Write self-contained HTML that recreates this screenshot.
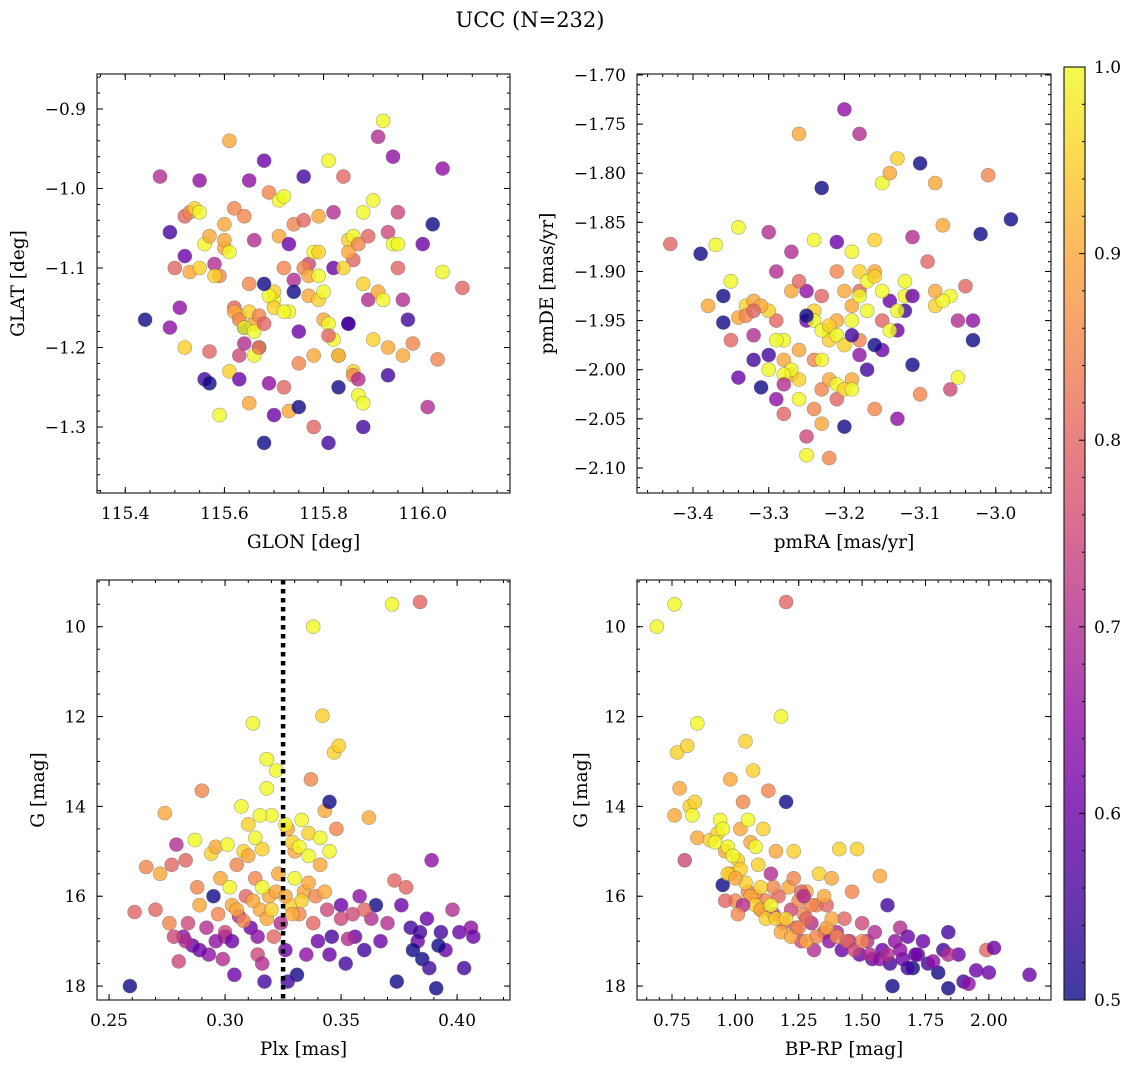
<!DOCTYPE html>
<html><head><meta charset="utf-8"><style>
html,body{margin:0;padding:0;background:#fff;}
svg{display:block;font-family:"DejaVu Serif","Liberation Serif",serif;}
</style></head><body>
<svg id="chart" width="1136" height="1067" viewBox="0 0 1136 1067">
<text x="530" y="27" text-anchor="middle" font-size="21">UCC (N=232)</text>
</svg>
<script>
// ---- Panel 1: GLON vs GLAT ----
const glonA = [115.44,115.47,115.49,115.49,115.50,115.51,115.52,115.52,115.53,115.54,115.55,115.52,115.53,115.55,115.55,115.56,115.57,115.57,115.58,115.59,115.59,115.60,115.60,115.61,115.61,115.62,115.62,115.63,115.63,115.64,115.64,115.65,115.65,115.65,115.66,115.66,115.67,115.68,115.68,115.69,115.69,115.70,115.70,115.70,115.71,115.71,115.72,115.72,115.73,115.73,115.73,115.74,115.74,115.75,115.75,115.76,115.76,115.77,115.77,115.78,115.78,115.79,115.79,115.80,115.81,115.81,115.82,115.82,115.83,115.83,115.84,115.85,115.85,115.86,115.86,115.87,115.88,115.88,115.89,115.89,115.90,115.90,115.91,115.91,115.92,115.93,115.93,115.94,115.94,115.95,115.95,115.96,115.96,116.01,116.02,116.03,116.04,116.04,116.08,116.00,115.97,115.98,115.93,
115.62,115.63,115.64,115.65,115.66,115.67,115.68,115.69,115.70,115.72,115.76,115.77,115.79,115.79,115.80,115.81,115.82,115.83,115.84,115.85,115.86,115.87,115.88,115.92,115.95,115.56,115.57,115.58,115.60,115.61,115.64,115.68,115.72,115.74,115.85,115.86,115.87,115.88,115.75,115.78,115.81,115.63,115.66,115.67];
const glatA = [-1.165,-0.985,-1.055,-1.175,-1.10,-1.15,-1.085,-1.035,-1.03,-1.025,-1.03,-1.2,-1.105,-0.99,-1.10,-1.24,-1.245,-1.205,-1.095,-1.11,-1.285,-1.075,-1.045,-0.94,-1.23,-1.15,-1.025,-1.16,-1.24,-1.175,-1.195,-1.12,-1.27,-0.99,-1.065,-1.17,-1.20,-1.32,-0.965,-1.245,-1.005,-1.14,-1.13,-1.285,-1.06,-1.015,-1.10,-1.25,-1.28,-1.07,-1.155,-1.045,-1.115,-1.18,-1.275,-1.04,-0.985,-1.095,-1.135,-1.30,-1.08,-1.14,-1.035,-1.165,-1.32,-0.965,-1.10,-1.03,-1.25,-1.21,-0.985,-1.065,-1.17,-1.09,-1.23,-1.26,-1.30,-1.03,-1.14,-1.06,-1.015,-1.19,-0.935,-1.13,-0.915,-1.055,-1.235,-0.96,-1.07,-1.03,-1.10,-1.21,-1.14,-1.275,-1.045,-1.215,-0.975,-1.105,-1.125,-1.07,-1.165,-1.195,-1.20,
-1.155,-1.165,-1.175,-1.155,-1.18,-1.16,-1.17,-1.135,-1.15,-1.155,-1.10,-1.11,-1.08,-1.11,-1.13,-1.17,-1.19,-1.21,-1.10,-1.08,-1.06,-1.07,-1.12,-1.14,-1.07,-1.07,-1.06,-1.11,-1.065,-1.08,-1.035,-1.12,-1.01,-1.13,-1.17,-1.235,-1.24,-1.27,-1.22,-1.21,-1.185,-1.21,-1.21,-1.20];
const probA = [0.5,0.7,0.55,0.65,0.8,0.65,0.6,0.8,0.85,0.95,1.0,0.95,0.9,0.65,0.95,0.55,0.5,0.8,0.7,0.85,1.0,0.9,0.9,0.9,0.95,0.8,0.85,0.95,0.6,0.5,0.7,0.85,0.9,0.65,0.7,0.9,0.55,0.5,0.6,0.65,0.85,1.0,0.95,0.6,0.9,1.0,0.85,0.8,0.9,0.6,1.0,0.85,0.7,0.6,0.5,0.8,0.55,0.75,0.9,0.8,1.0,0.95,0.9,0.9,0.55,1.0,0.6,0.7,0.5,0.7,0.8,0.95,0.6,0.8,0.95,1.0,0.55,1.0,0.7,0.8,1.0,0.95,0.7,0.9,1.0,0.75,0.55,0.65,1.0,0.75,0.8,0.9,0.7,0.7,0.5,0.85,0.65,1.0,0.8,0.6,0.55,0.85,0.9,
0.9,0.85,1.0,0.95,1.0,0.85,0.8,1.0,0.95,1.0,0.85,0.9,0.95,1.0,1.0,1.0,1.0,0.95,0.95,0.9,1.0,0.85,0.95,1.0,1.0,1.0,0.9,0.95,0.9,1.0,0.85,0.5,1.0,0.5,0.55,0.85,0.7,1.0,0.85,0.9,0.8,0.75,1.0,0.85];

// ---- Panel 2: pmRA vs pmDE ----
const pmraB = [-3.43,-3.39,-3.37,-3.38,-3.36,-3.36,-3.35,-3.34,-3.34,-3.34,-3.33,-3.32,-3.32,-3.31,-3.30,-3.30,-3.29,-3.29,-3.28,-3.28,-3.27,-3.27,-3.26,-3.26,-3.25,-3.25,-3.25,-3.24,-3.24,-3.23,-3.23,-3.23,-3.22,-3.22,-3.21,-3.21,-3.20,-3.20,-3.19,-3.19,-3.18,-3.18,-3.17,-3.16,-3.16,-3.15,-3.15,-3.14,-3.14,-3.13,-3.13,-3.12,-3.11,-3.11,-3.10,-3.10,-3.09,-3.08,-3.08,-3.07,-3.06,-3.06,-3.05,-3.05,-3.04,-3.03,-3.03,-3.02,-3.01,-2.98,-3.30,-3.26,-3.22,-3.20,-3.18,-3.17,-3.24,-3.19,-3.27,-3.15,-3.23,-3.21,-3.28,-3.16,-3.32,-3.13,-3.21,-3.25,-3.18,-3.29,-3.12,
-3.24,-3.23,-3.22,-3.21,-3.20,-3.19,-3.18,-3.17,-3.16,-3.15,-3.14,-3.13,-3.23,-3.22,-3.21,-3.20,-3.27,-3.28,-3.29,-3.30,-3.31,-3.33,-3.32,-3.26,-3.25,-3.19,-3.16,-3.18,-3.12,-3.11,-3.07,-3.08,-3.35,-3.26,-3.24,-3.19,-3.28];
const pmdeB = [-1.872,-1.882,-1.873,-1.935,-1.925,-1.952,-1.97,-1.947,-1.855,-2.008,-1.935,-1.93,-1.965,-2.018,-1.985,-1.86,-1.95,-2.03,-2.045,-1.97,-1.88,-2.005,-1.76,-2.01,-2.068,-1.95,-2.087,-1.868,-1.99,-1.815,-2.055,-1.925,-2.09,-1.96,-1.87,-2.03,-1.735,-2.058,-1.88,-1.935,-1.76,-1.9,-2.0,-1.868,-2.04,-1.81,-1.95,-1.8,-1.93,-1.785,-2.05,-1.91,-1.995,-1.865,-1.79,-2.025,-1.89,-1.81,-1.935,-1.853,-2.02,-1.925,-1.95,-2.008,-1.915,-1.95,-1.97,-1.862,-1.802,-1.847,-1.94,-1.98,-1.97,-1.92,-1.97,-1.94,-1.94,-2.01,-1.92,-1.98,-2.02,-1.9,-1.99,-1.9,-1.99,-1.96,-1.95,-1.92,-1.92,-1.9,-1.94,
-1.95,-1.96,-1.955,-1.965,-1.975,-1.95,-1.925,-1.91,-1.905,-1.92,-1.96,-1.94,-1.99,-2.01,-2.015,-2.02,-2.0,-2.005,-1.97,-2.0,-1.935,-1.945,-1.94,-1.91,-1.945,-1.965,-1.975,-1.985,-1.925,-1.925,-1.93,-1.92,-1.91,-2.03,-2.04,-2.02,-2.015];
const probB = [0.8,0.5,1.0,0.9,0.5,0.5,0.8,0.9,1.0,0.6,0.95,0.9,0.7,0.5,0.55,0.7,0.8,0.65,0.8,1.0,0.7,0.9,0.9,0.95,0.75,0.6,1.0,1.0,0.85,0.5,0.9,0.8,0.85,1.0,0.6,0.8,0.65,0.5,1.0,0.9,0.7,0.95,0.55,0.95,0.85,1.0,0.8,0.9,0.6,0.95,0.65,1.0,0.5,0.7,0.5,0.85,0.8,0.9,0.95,0.9,0.75,1.0,0.7,1.0,0.8,0.65,0.5,0.5,0.85,0.5,0.95,0.9,0.95,0.9,0.85,1.0,0.95,0.9,0.9,0.6,0.85,0.85,0.9,0.9,0.55,0.6,0.9,0.65,0.8,0.7,0.55,
1.0,1.0,0.95,1.0,0.95,1.0,1.0,1.0,0.95,1.0,1.0,1.0,1.0,0.9,1.0,0.95,1.0,1.0,1.0,1.0,0.9,0.85,0.8,0.8,0.5,0.55,0.5,0.65,1.0,0.6,1.0,0.9,1.0,1.0,0.85,1.0,0.7];

// ---- Panel 3: Plx vs G ----
const plxC = [0.259,0.261,0.266,0.270,0.272,0.274,0.276,0.277,0.279,0.280,0.282,0.283,0.284,0.286,0.287,0.288,0.289,0.290,0.292,0.293,0.294,0.295,0.296,0.297,0.298,0.299,0.300,0.301,0.302,0.303,0.304,0.305,0.306,0.307,0.308,0.309,0.310,0.311,0.312,0.313,0.314,0.315,0.316,0.317,0.318,0.319,0.320,0.321,0.322,0.323,0.324,0.326,0.327,0.328,0.330,0.331,0.332,0.333,0.334,0.335,0.336,0.337,0.338,0.339,0.340,0.341,0.342,0.343,0.344,0.345,0.346,0.347,0.348,0.349,0.350,0.352,0.355,0.356,0.358,0.360,0.362,0.363,0.365,0.367,0.370,0.372,0.373,0.374,0.376,0.378,0.380,0.383,0.384,0.385,0.387,0.389,0.391,0.393,0.395,0.398,0.401,0.403,0.406,0.407,0.345,0.329,0.318,
0.305,0.308,0.312,0.316,0.318,0.320,0.322,0.326,0.329,0.333,0.336,0.338,0.332,0.336,0.341,0.313,0.315,0.326,0.330,0.310,0.300,0.296,0.289,0.283,0.278,0.303,0.345,0.350,0.353,0.360,0.381,0.384,0.388,0.392,0.316,0.327,0.314,0.343];
const gmagC = [18.0,16.35,15.35,16.3,15.5,14.15,16.6,15.3,14.85,17.45,16.9,15.2,16.6,17.1,14.75,15.8,16.2,13.65,16.7,17.3,15.05,16.0,14.9,16.4,15.6,17.4,16.8,14.85,15.8,16.2,17.75,15.3,16.45,14.0,15.0,16.0,14.4,16.7,12.15,15.6,17.3,16.3,14.95,17.9,12.95,16.0,14.2,16.9,13.2,15.5,16.6,17.2,14.5,16.2,15.0,17.75,16.4,14.3,15.9,17.3,14.6,13.4,10.0,16.0,17.0,15.3,11.98,14.1,16.3,15.0,16.9,12.8,14.5,12.65,16.2,17.5,16.4,16.9,16.0,17.2,14.25,16.5,16.2,17.0,16.6,9.5,15.65,17.9,16.2,15.8,16.7,17.0,9.45,17.4,16.5,15.2,18.05,16.8,17.2,16.3,16.8,17.6,16.7,16.9,13.9,14.8,13.6,
16.3,16.55,16.1,15.8,16.5,16.3,15.9,16.0,16.4,16.1,15.7,16.6,14.9,15.1,14.7,14.7,14.2,14.4,15.6,15.1,16.9,17.0,17.2,17.0,16.9,17.0,17.3,16.5,16.95,16.3,17.2,16.8,17.6,17.1,17.5,17.9,16.9,15.9];
const probC = [0.5,0.8,0.85,0.8,0.9,0.9,0.85,0.8,0.7,0.75,0.65,0.8,0.75,0.6,1.0,0.85,0.9,0.85,0.7,0.65,0.95,0.5,0.9,0.85,0.9,0.7,0.75,1.0,1.0,0.9,0.6,0.85,0.7,1.0,0.95,0.8,0.95,0.6,1.0,0.85,0.75,0.9,0.95,0.55,1.0,0.9,1.0,0.8,1.0,0.9,0.7,0.6,0.9,0.95,0.9,0.5,0.85,1.0,0.9,0.65,0.95,0.85,1.0,0.85,0.6,0.9,0.95,0.9,0.75,1.0,0.55,0.95,0.85,0.95,0.6,0.55,0.75,0.6,0.65,0.55,0.9,0.7,0.5,0.6,0.7,1.0,0.8,0.5,0.6,0.8,0.55,0.6,0.8,0.5,0.6,0.65,0.5,0.55,0.6,0.7,0.6,0.55,0.65,0.6,0.5,0.95,1.0,
0.9,0.85,0.9,1.0,0.9,0.95,0.9,0.9,0.9,0.95,0.9,0.8,1.0,1.0,1.0,1.0,1.0,1.0,1.0,0.9,0.7,0.65,0.6,0.7,0.75,0.6,0.6,0.75,0.7,0.8,0.5,0.55,0.55,0.5,0.7,0.55,0.65,0.9];

// ---- Panel 4: BP-RP vs G ----
const bprpD = [0.69,0.76,0.77,0.78,0.80,0.76,0.81,0.82,0.84,0.85,0.85,0.83,0.90,0.93,0.94,0.95,0.96,0.98,0.98,1.00,1.01,1.02,1.03,1.04,1.05,1.06,1.07,1.08,1.09,1.10,1.11,1.12,1.13,1.14,1.15,1.16,1.17,1.18,1.19,1.20,1.20,1.21,1.22,1.23,1.24,1.25,1.26,1.27,1.28,1.30,1.31,1.32,1.33,1.35,1.36,1.37,1.38,1.40,1.41,1.42,1.43,1.45,1.46,1.48,1.49,1.50,1.52,1.54,1.55,1.57,1.58,1.60,1.61,1.62,1.63,1.65,1.66,1.68,1.70,1.72,1.74,1.76,1.80,1.82,1.84,1.84,1.88,1.90,1.92,1.95,1.99,2.00,2.02,2.16,1.28,1.15,1.35,
0.92,0.95,0.97,0.99,1.02,1.04,1.06,1.08,1.10,1.12,1.14,1.16,1.18,1.20,1.22,1.25,1.28,1.32,1.36,1.40,1.44,1.47,1.50,1.53,1.57,1.60,1.65,1.68,1.71,1.78,1.84,0.97,1.00,1.03,1.05,1.08,1.10,1.23,1.26,1.30,1.38,0.96,1.01,1.27];
const gmagD = [10.0,9.5,12.8,13.6,15.2,14.2,12.65,14.0,13.9,14.7,12.15,14.2,14.75,14.6,14.3,15.75,15.0,13.4,15.5,16.1,15.2,14.5,13.9,12.55,15.9,14.8,13.2,16.0,15.3,16.3,14.5,16.1,13.65,15.5,16.4,15.0,16.0,12.0,16.6,9.45,13.9,15.8,16.3,15.0,16.7,16.1,17.0,16.4,15.9,16.6,17.2,16.2,15.5,16.8,16.2,17.0,15.6,16.8,14.95,17.2,16.5,17.0,15.9,14.95,17.3,16.6,17.0,17.4,16.8,15.55,17.2,16.2,17.5,18.0,17.0,16.7,17.4,16.9,17.6,17.3,17.0,17.5,17.7,17.2,16.8,18.05,17.3,17.9,17.95,17.65,17.2,17.7,17.15,17.75,16.5,15.8,16.0,
14.8,14.5,14.9,15.1,15.4,15.7,16.0,16.2,16.3,16.5,16.2,16.5,16.8,16.5,16.9,16.7,17.0,16.9,16.7,16.9,17.0,17.2,17.0,17.3,17.4,17.3,17.2,17.6,17.3,17.45,17.3,15.5,15.6,16.2,14.3,14.9,15.8,15.6,15.9,16.2,16.5,16.1,16.4,16.0];
const probD = [1.0,1.0,0.95,0.9,0.75,0.9,0.95,0.95,0.95,0.9,1.0,1.0,0.95,0.95,1.0,0.5,0.9,0.9,0.9,0.85,0.95,0.9,0.85,0.95,0.85,0.9,0.95,0.85,0.95,0.8,0.95,0.85,0.85,0.7,0.75,0.9,0.8,1.0,0.8,0.8,0.5,0.9,0.75,0.95,0.8,0.85,0.75,0.85,0.9,0.7,0.7,0.85,0.95,0.75,0.8,0.65,0.9,0.7,0.95,0.6,0.8,0.7,0.85,0.95,0.6,0.75,0.7,0.6,0.7,0.9,0.6,0.55,0.55,0.5,0.65,0.7,0.6,0.6,0.5,0.6,0.6,0.55,0.5,0.55,0.55,0.5,0.6,0.55,0.65,0.6,0.8,0.6,0.6,0.6,0.8,0.85,0.9,
1.0,1.0,1.0,1.0,0.95,0.95,0.9,0.95,0.9,0.95,1.0,0.95,0.9,0.95,0.9,0.85,0.9,0.85,0.9,0.85,0.8,0.75,0.85,0.7,0.65,0.7,0.65,0.55,0.6,0.65,0.7,0.95,0.9,0.7,1.0,1.0,0.95,0.85,0.8,0.85,0.9,0.8,0.85,0.7];

const plxLine = [0.325];
const cbarTicks = [0.5,0.6,0.7,0.8,0.9,1.0];

const NS = "http://www.w3.org/2000/svg";
const svg = document.getElementById('chart');
function mk(tag, attrs, parent){ const e=document.createElementNS(NS,tag); for(const k in attrs) e.setAttribute(k,attrs[k]); (parent||svg).appendChild(e); return e; }

const stops = ["#0d0887","#41049d","#6a00a8","#8f0da4","#b12a90","#cc4778","#e16462","#f2844b","#fca636","#fcce25","#f0f921"];
function hex(c){return [parseInt(c.slice(1,3),16),parseInt(c.slice(3,5),16),parseInt(c.slice(5,7),16)];}
function plasma(p){
  let t=Math.max(0,Math.min(1,(p-0.5)/0.5))*10; let i=Math.min(9,Math.floor(t)); let f=t-i;
  const a=hex(stops[i]), b=hex(stops[i+1]);
  return "rgb("+a.map((v,k)=>Math.round(v+(b[k]-v)*f)).join(",")+")";
}
function fmt(v,d){ const s=Math.abs(v).toFixed(d); return (v<-1e-9?"\u2212":"")+s; }

function panel(o){
  const g=mk('g',{});
  
  
  const sx=v=>o.x0+(v-o.xlim[0])/(o.xlim[1]-o.xlim[0])*(o.x1-o.x0);
  const sy=v=>o.y0+(v-o.ylim[0])/(o.ylim[1]-o.ylim[0])*(o.y1-o.y0);
  const clip='clip-'+o.name;
  const cp=mk('clipPath',{id:clip},g); mk('rect',{x:o.x0,y:o.y0,width:o.x1-o.x0,height:o.y1-o.y0},cp);
  const pts=mk('g',{'clip-path':'url(#'+clip+')'},g);
  
  
  for(let i=0;i<o.xs.length;i++){
    const c=mk('circle',{cx:sx(o.xs[i]).toFixed(1),cy:sy(o.ys[i]).toFixed(1),r:7,fill:plasma(o.ps[i]),'fill-opacity':0.8,stroke:'#555','stroke-opacity':0.5,'stroke-width':0.6},pts);
    
    
  }
  if(o.vline){ for(const v of o.vline){ const l=mk('line',{x1:sx(v),x2:sx(v),y1:o.y0,y2:o.y1,stroke:'#000','stroke-width':4.5,'stroke-dasharray':'4.5 4.5'},g);
    
     } }
  const tk=mk('g',{stroke:'#000','stroke-width':1},g);
  function ticks(lim,step){ const a=[]; const lo=Math.min(lim[0],lim[1]), hi=Math.max(lim[0],lim[1]); for(let k=Math.ceil(lo/step-1e-6);k<=Math.floor(hi/step+1e-6);k++) a.push(k*step); return a; }
  for(const v of ticks(o.xlim,o.xminor)){ const x=sx(v); mk('line',{x1:x,x2:x,y1:o.y1,y2:o.y1-3},tk); mk('line',{x1:x,x2:x,y1:o.y0,y2:o.y0+3},tk); }
  for(const v of ticks(o.ylim,o.yminor)){ const y=sy(v); mk('line',{x1:o.x0,x2:o.x0+3,y1:y,y2:y},tk); mk('line',{x1:o.x1,x2:o.x1-3,y1:y,y2:y},tk); }
  for(const v of o.xticks){ const x=sx(v); mk('line',{x1:x,x2:x,y1:o.y1,y2:o.y1-6},tk); mk('line',{x1:x,x2:x,y1:o.y0,y2:o.y0+6},tk);
    const t=mk('text',{x:x,y:o.y1+26,'text-anchor':'middle','font-size':17},g); t.textContent=fmt(v,o.xd);
      }
  for(const v of o.yticks){ const y=sy(v); mk('line',{x1:o.x0,x2:o.x0+6,y1:y,y2:y},tk); mk('line',{x1:o.x1,x2:o.x1-6,y1:y,y2:y},tk);
    const t=mk('text',{x:o.x0-11,y:y+6,'text-anchor':'end','font-size':17},g); t.textContent=fmt(v,o.yd);
      }
  const fr=mk('rect',{x:o.x0,y:o.y0,width:o.x1-o.x0,height:o.y1-o.y0,fill:'none',stroke:'#222','stroke-width':1.2},g);
   
  const xl=mk('text',{x:(o.x0+o.x1)/2,y:o.y1+55,'text-anchor':'middle','font-size':18.5},g); xl.textContent=o.xlabel;
   
  const yl=mk('text',{x:0,y:0,'text-anchor':'middle','font-size':18.5,transform:'translate('+o.ylx+','+((o.y0+o.y1)/2)+') rotate(-90)'},g); yl.textContent=o.ylabel;
   
}

panel({name:'panel-glon-glat',x0:97,x1:510,y0:74,y1:493,xlim:[115.343,116.176],ylim:[-0.856,-1.383],xs:glonA,ys:glatA,ps:probA,
  xticks:[115.4,115.6,115.8,116.0],xd:1,xminor:0.05,yticks:[-0.9,-1.0,-1.1,-1.2,-1.3],yd:1,yminor:0.02,xlabel:'GLON [deg]',ylabel:'GLAT [deg]',ylx:24});
panel({name:'panel-pm',x0:637,x1:1051,y0:74,y1:493,xlim:[-3.474,-2.927],ylim:[-1.699,-2.1255],xs:pmraB,ys:pmdeB,ps:probB,
  xticks:[-3.4,-3.3,-3.2,-3.1,-3.0],xd:1,xminor:0.02,yticks:[-1.70,-1.75,-1.80,-1.85,-1.90,-1.95,-2.00,-2.05,-2.10],yd:2,yminor:0.01,xlabel:'pmRA [mas/yr]',ylabel:'pmDE [mas/yr]',ylx:553});
panel({name:'panel-plx-g',x0:97,x1:510,y0:580,y1:1000,xlim:[0.2448,0.4228],ylim:[8.96,18.31],xs:plxC,ys:gmagC,ps:probC,vline:plxLine,
  xticks:[0.25,0.30,0.35,0.40],xd:2,xminor:0.01,yticks:[10,12,14,16,18],yd:0,yminor:0.5,xlabel:'Plx [mas]',ylabel:'G [mag]',ylx:44});
panel({name:'panel-cmd',x0:637,x1:1051,y0:580,y1:1000,xlim:[0.612,2.245],ylim:[8.96,18.31],xs:bprpD,ys:gmagD,ps:probD,
  xticks:[0.75,1.00,1.25,1.50,1.75,2.00],xd:2,xminor:0.05,yticks:[10,12,14,16,18],yd:0,yminor:0.5,xlabel:'BP-RP [mag]',ylabel:'G [mag]',ylx:587});

const cb=mk('g',{});


const defs=mk('defs',{},cb);
const lg=mk('linearGradient',{id:'cbg',x1:0,y1:1,x2:0,y2:0},defs);
for(let i=0;i<=20;i++){ mk('stop',{offset:(i/20),'stop-color':plasma(0.5+i/40)},lg); }
const cby0=67, cby1=1000, cbx0=1064, cbx1=1085;
mk('rect',{x:cbx0,y:cby0,width:cbx1-cbx0,height:cby1-cby0,fill:'url(#cbg)','fill-opacity':0.8},cb);
const csy=v=>cby1-(v-0.5)/0.5*(cby1-cby0);
for(let k=25;k<=50;k++){ const v=k/50; const y=csy(v); const major=(k%5===0);
  mk('line',{x1:cbx1,x2:cbx1-(major?6:3),y1:y,y2:y,stroke:'#000','stroke-width':1},cb); }
for(const v of cbarTicks){ const t=mk('text',{x:cbx1+9,y:csy(v)+6,'font-size':17},cb); t.textContent=v.toFixed(1);
    }
mk('rect',{x:cbx0,y:cby0,width:cbx1-cbx0,height:cby1-cby0,fill:'none',stroke:'#222','stroke-width':1.2},cb);
</script>
</body></html>
